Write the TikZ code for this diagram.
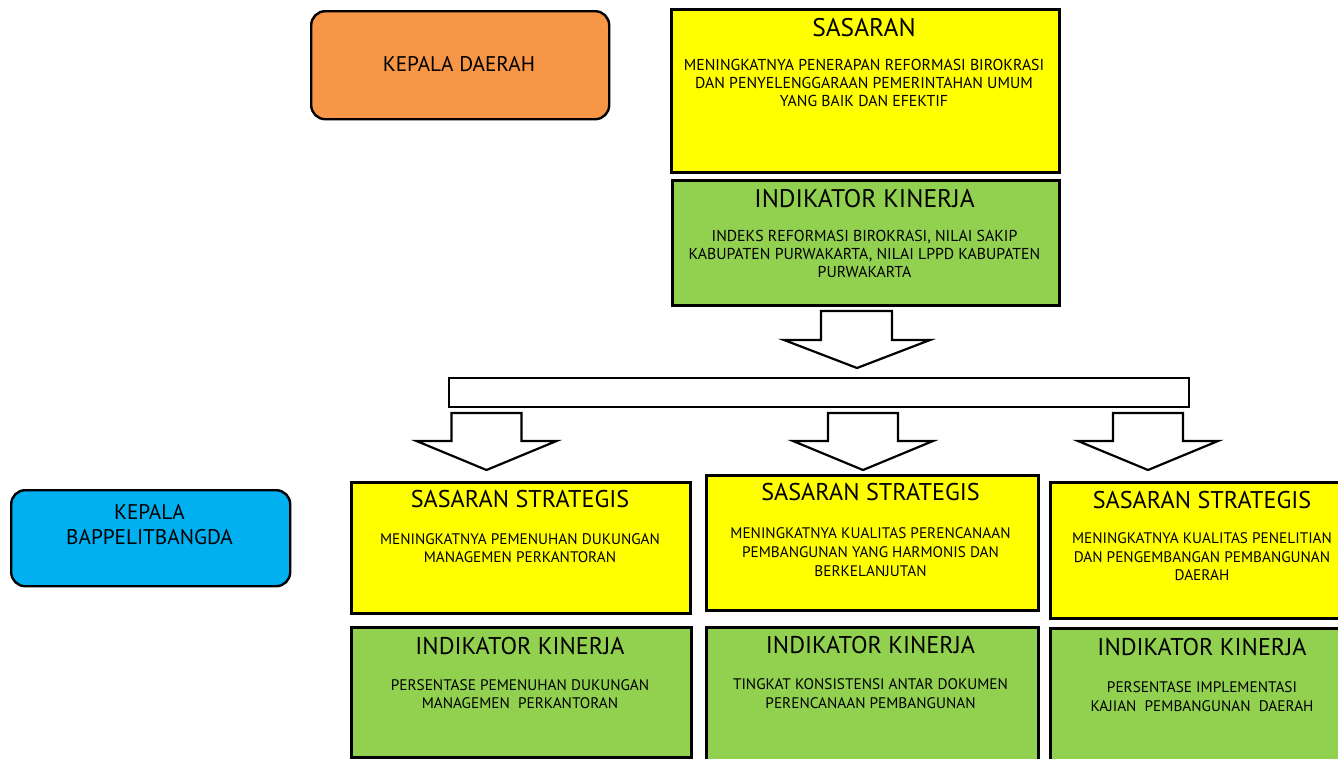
\documentclass[tikz,border=0pt]{standalone}
\usepackage{fontspec}
\setmainfont{PT Sans}
\definecolor{korange}{HTML}{F79646}
\definecolor{kyellow}{HTML}{FFFF00}
\definecolor{kgreen}{HTML}{92D050}
\definecolor{kblue}{HTML}{00B0F0}
\tikzset{
  boxbase/.style={draw=black, line width=2.6pt, rectangle, inner sep=0pt, anchor=north west},
  ybox/.style={boxbase, fill=kyellow},
  gbox/.style={boxbase, fill=kgreen},
  rbox/.style={draw=black, line width=2.4pt, rounded corners=14pt, inner sep=0pt, anchor=north west},
  ttl/.style={inner sep=0pt, anchor=base, font=\fontsize{24.2}{28}\selectfont},
  ttlbig/.style={inner sep=0pt, anchor=base, font=\fontsize{25.5}{28}\selectfont},
  bdytop/.style={inner sep=0pt, anchor=north, align=center, font=\fontsize{15.8}{17.8}\selectfont},
  bdy/.style={inner sep=0pt, anchor=north, align=center, font=\fontsize{15.3}{18.5}\selectfont},
  bdyb/.style={inner sep=0pt, anchor=north, align=center, font=\fontsize{15.3}{19}\selectfont},
  head/.style={inner sep=0pt, anchor=base, align=center, font=\fontsize{21.2}{24.5}\selectfont},
  blockarrow/.style={draw=black, fill=white, line width=2.2pt, line join=miter},
}
\begin{document}
\begin{tikzpicture}[x=1pt,y=-1pt]
\clip (0,0) rectangle (1338,758);
\fill[white] (0,0) rectangle (1338,758);

% leader boxes
\node[rbox, fill=korange, minimum width=298pt, minimum height=108pt] (kd) at (310,10) {};
\node[head] (kdt) at (459,71.5) {KEPALA DAERAH};
\node[rbox, fill=kblue, minimum width=279pt, minimum height=96pt] (kb) at (10,489) {};
\node[head] (kbt1) at (149.5,519.5) {KEPALA};
\node[head] (kbt2) at (149.5,544) {BAPPELITBANGDA};

% top boxes
\node[ybox, minimum width=388pt, minimum height=163pt] (s0) at (670,8) {};
\node[ttlbig] (s0t) at (864,36.5) {SASARAN};
\node[bdytop] (s0b) at (864,59.5) {MENINGKATNYA PENERAPAN REFORMASI BIROKRASI\\DAN PENYELENGGARAAN PEMERINTAHAN UMUM\\YANG BAIK DAN EFEKTIF};
\node[gbox, minimum width=387pt, minimum height=125pt] (i0) at (671,179) {};
\node[ttlbig] (i0t) at (864.5,207) {INDIKATOR KINERJA};
\node[bdytop] (i0b) at (864.5,230.5) {INDEKS REFORMASI BIROKRASI, NILAI SAKIP\\KABUPATEN PURWAKARTA, NILAI LPPD KABUPATEN\\PURWAKARTA};

% distributor
\path[blockarrow] (821,311) -- (892,311) -- (892,340) -- (930,340) -- (857,368) -- (784,340) -- (821,340) -- cycle;
\node[draw=black, line width=2.4pt, fill=white, inner sep=0pt, anchor=north west, minimum width=740pt, minimum height=29pt] (bar) at (448,377) {};
\foreach \cx in {486.5,863,1148}{
  \path[blockarrow] (\cx-35,413) -- (\cx+35,413) -- (\cx+35,441) -- (\cx+70,441) -- (\cx,470) -- (\cx-70,441) -- (\cx-35,441) -- cycle;
}

% lower left
\node[ybox, minimum width=339pt, minimum height=131pt] (s1) at (350,481) {};
\node[ttl] (s1t) at (520,507) {SASARAN STRATEGIS};
\node[bdy] (s1b) at (520,533) {MENINGKATNYA PEMENUHAN DUKUNGAN\\MANAGEMEN PERKANTORAN};
\node[gbox, minimum width=340pt, minimum height=130pt] (i1) at (350,626) {};
\node[ttl] (i1t) at (520,654) {INDIKATOR KINERJA};
\node[bdy] (i1b) at (520,679) {PERSENTASE PEMENUHAN DUKUNGAN\\MANAGEMEN\ \ PERKANTORAN};

% lower middle
\node[ybox, minimum width=332pt, minimum height=135pt] (s2) at (705,474) {};
\node[ttl] (s2t) at (870.5,500) {SASARAN STRATEGIS};
\node[bdyb] (s2b) at (870.5,527) {MENINGKATNYA KUALITAS PERENCANAAN\\PEMBANGUNAN YANG HARMONIS DAN\\BERKELANJUTAN};
\node[gbox, minimum width=332pt, minimum height=140pt] (i2) at (705,626) {};
\node[ttl] (i2t) at (870.5,653.5) {INDIKATOR KINERJA};
\node[bdy] (i2b) at (870.5,678.5) {TINGKAT KONSISTENSI ANTAR DOKUMEN\\PERENCANAAN PEMBANGUNAN};

% lower right
\node[ybox, minimum width=310pt, minimum height=136pt] (s3) at (1049,481) {};
\node[ttl] (s3t) at (1202,508.5) {SASARAN STRATEGIS};
\node[bdy] (s3b) at (1202,532.5) {MENINGKATNYA KUALITAS PENELITIAN\\DAN PENGEMBANGAN PEMBANGUNAN\\DAERAH};
\node[gbox, minimum width=310pt, minimum height=140pt] (i3) at (1049,627) {};
\node[ttl] (i3t) at (1202,655.5) {INDIKATOR KINERJA};
\node[bdy] (i3b) at (1202,681.5) {PERSENTASE IMPLEMENTASI\\KAJIAN\ \ PEMBANGUNAN\ \ DAERAH};
\end{tikzpicture}
\end{document}
